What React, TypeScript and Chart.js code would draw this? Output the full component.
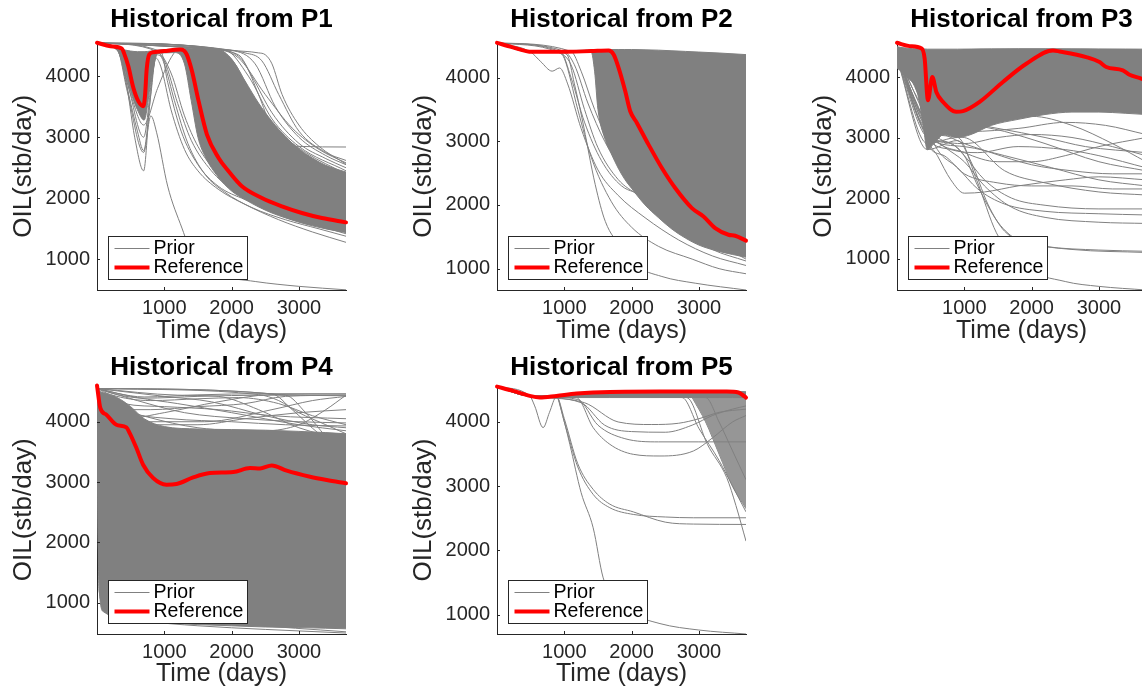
import React, { useEffect, useRef } from "react";
import { Chart, registerables } from "chart.js";

Chart.register(...registerables);

type Pt = [number, number];

// ---------- shared axis data ----------
const X_TICKS = [1000, 2000, 3000];
const Y_TICKS = [1000, 2000, 3000, 4000];
const DAY_MIN = 0;
const DAY_MAX = 3700;
const LEGEND_LABELS = ["Prior", "Reference"];
const X_LABEL = "Time (days)";
const Y_LABEL = "OIL(stb/day)";

// ---------- P1 ----------
const P1_REF: Pt[] = [[0,4546],[200,4490],[371,4450],[400,4380],[465,4164],[540,3810],[614,3590],[688,3508],[713,3672],[738,4110],[777,4356],[842,4390],[1000,4410],[1238,4437],[1290,4420],[1333,4356],[1411,4082],[1510,3590],[1634,3044],[1807,2661],[1955,2443],[2153,2197],[2450,2005],[2748,1869],[3045,1760],[3342,1678],[3700,1607]];
const P1_BAND_DAYS = [0,150,300,400,500,600,700,800,900,1000,1150,1300,1400,1500,1600,1800,2000,2200,2400,2600,2800,3000,3200,3400,3700];
const P1_BAND_HI = [4546,4500,4460,4430,4410,4400,4400,4410,4425,4435,4440,4450,4455,4460,4460,4440,4280,3920,3560,3260,3010,2810,2660,2540,2430];
const P1_BAND_LO = [4546,4490,4420,4150,3750,3450,3280,3900,4370,4380,4385,4200,3600,3000,2700,2350,2120,1980,1860,1760,1680,1610,1550,1500,1440];
const P1_PRIOR: Pt[][] = [
  [[0,4546],[300,4440],[420,4000],[560,3000],[693,2450],[780,3500],[870,4300],[950,4150],[1100,3450],[1300,2800],[1500,2450],[1800,2150],[2200,1900],[2700,1650],[3200,1450],[3700,1280]],
  [[0,4546],[300,4440],[450,3800],[600,3100],[693,2780],[800,3700],[880,4350],[1000,4250],[1200,3550],[1400,2950],[1700,2450],[2000,2150],[2500,1850],[3000,1650],[3700,1420]],
  [[0,4546],[300,4440],[450,3900],[693,3000],[820,4000],[900,4380],[1100,4050],[1300,3350],[1500,2850],[1800,2400],[2200,2050],[2800,1750],[3700,1500]],
  [[0,4546],[300,4440],[450,3750],[693,2750],[800,3350],[887,3072],[1050,2200],[1262,1514],[1460,967],[1800,750],[2351,639],[3000,560],[3700,503]],
  [[0,4546],[300,4440],[500,3700],[693,3200],[900,3800],[1100,4300],[1200,4420],[1300,4300],[1500,3500],[1800,2750],[2200,2250],[3000,1850],[3700,1620]],
  [[0,4546],[900,4400],[1000,4200],[1150,3600],[1350,2900],[1600,2400],[1900,2100],[2300,1850],[2800,1650],[3300,1500],[3700,1380]],
  [[0,4546],[950,4400],[1050,3900],[1250,3100],[1500,2550],[1800,2200],[2200,1980],[2700,1780],[3200,1600],[3700,1450]],
  [[0,4546],[1500,4460],[2000,4420],[2400,4380],[2500,4350],[2600,4200],[2750,3700],[3000,3200],[3300,2850],[3700,2560]],
  [[0,4546],[1500,4460],[2000,4390],[2200,4200],[2400,3700],[2600,3150],[2800,2900],[3000,2850],[3700,2840]],
  [[0,4546],[1500,4460],[2100,4350],[2300,4000],[2600,3400],[3000,2900],[3400,2650],[3700,2500]],
  [[0,4546],[1800,4440],[2050,4200],[2300,3700],[2700,3100],[3100,2750],[3700,2400]],
  [[0,4546],[1700,4450],[1950,4100],[2200,3550],[2500,3050],[3000,2650],[3700,2300]],
  [[0,4546],[1600,4460],[2200,4380],[2450,4250],[2700,3700],[3000,3100],[3400,2750],[3700,2620]],
  [[0,4546],[1700,4450],[2100,4300],[2500,3700],[2900,3150],[3300,2800],[3700,2580]],
  [[0,4546],[1900,4430],[2250,4000],[2600,3300],[3000,2850],[3700,2450]],
  [[0,4546],[2000,4420],[2350,4200],[2650,3500],[3000,3000],[3400,2700],[3700,2550]],
];

// ---------- P2 ----------
const P2_REF: Pt[] = [[0,4545],[223,4477],[520,4403],[965,4403],[1400,4415],[1658,4424],[1733,4362],[1807,4152],[1906,3785],[1980,3471],[2079,3287],[2252,2947],[2450,2580],[2648,2266],[2896,1951],[3069,1820],[3242,1637],[3440,1532],[3539,1516],[3700,1440]];
const P2_BAND_DAYS = [0,300,500,1000,1300,1400,1450,1500,1600,1700,1800,1900,2000,2200,2400,2600,2800,3000,3300,3700];
const P2_BAND_HI = [4545,4460,4410,4420,4430,4435,4440,4440,4440,4440,4440,4440,4440,4435,4430,4420,4410,4400,4385,4360];
const P2_BAND_LO = [4545,4450,4400,4400,4410,4400,4100,3500,3050,2800,2580,2400,2260,2000,1800,1620,1480,1370,1270,1180];
const P2_PRIOR: Pt[][] = [
  [[0,4545],[500,4400],[900,4400],[1040,4360],[1150,3900],[1262,3366],[1460,2318],[1609,1742],[1856,1323],[2054,1060],[2450,877],[2945,772],[3700,665]],
  [[0,4545],[500,4400],[900,4400],[1000,4300],[1200,3500],[1400,2750],[1700,2050],[2000,1650],[2400,1350],[2900,1150],[3300,1000],[3700,920]],
  [[0,4545],[500,4400],[650,4250],[820,4100],[930,4150],[1050,3900],[1250,3200],[1500,2550],[1800,2150],[2200,1800],[2700,1450],[3200,1200],[3700,1050]],
  [[0,4545],[900,4400],[1100,4200],[1300,3500],[1500,2900],[1800,2400],[2100,2150],[2400,1900],[2800,1550],[3200,1300],[3700,1120]],
  [[0,4545],[1000,4410],[1150,4200],[1350,3600],[1600,3000],[1900,2500],[2300,2100],[2800,1700],[3300,1400],[3700,1200]],
  [[0,4545],[1100,4410],[1250,4100],[1450,3500],[1700,2900],[2000,2400],[2400,2000],[2900,1600],[3700,1250]],
  [[0,4545],[950,4400],[1100,4000],[1300,3300],[1550,2700],[1850,2300],[2200,2150],[2600,1900],[3100,1500],[3700,1150]],
];

// ---------- P3 ----------
const P3_REF: Pt[] = [[0,4565],[188,4510],[366,4470],[411,4302],[460,3616],[525,4000],[584,3753],[683,3589],[881,3424],[980,3435],[1228,3589],[1574,3918],[1921,4219],[2317,4439],[2416,4422],[2812,4329],[3010,4247],[3109,4165],[3356,4110],[3455,4038],[3629,3973],[3700,3940]];
const P3_BAND_DAYS = [0,150,300,380,450,550,700,900,1100,1400,1800,2200,2600,3000,3400,3700];
const P3_BAND_HI = [4500,4475,4465,4465,4460,4460,4460,4460,4462,4465,4468,4468,4466,4464,4462,4460];
const P3_BAND_LO = [4150,4000,3750,3300,2800,2900,3050,3000,3050,3200,3300,3380,3420,3420,3400,3380];
const P3_PRIOR: Pt[][] = [
  [[0,4400],[300,3900],[450,3000],[600,2700],[800,2300],[1000,2080],[1300,2100],[1800,2200],[2500,2300],[3000,2350],[3700,2300]],
  [[0,4350],[300,3800],[450,2900],[700,2700],[1000,2400],[1500,2250],[2000,2200],[2600,2200],[3200,2150],[3700,2150]],
  [[0,4400],[350,3600],[500,3000],[800,2900],[1000,2700],[1300,2300],[1700,2000],[2200,1880],[3000,1820],[3700,1820]],
  [[0,4300],[400,3300],[600,2800],[900,2500],[1200,2150],[1600,1900],[2200,1780],[3000,1740],[3700,1720]],
  [[0,4350],[450,3100],[700,2850],[1000,2600],[1300,2200],[1700,1850],[2200,1680],[3000,1600],[3700,1580]],
  [[0,4300],[450,3050],[800,2900],[1000,2700],[1200,2200],[1500,1600],[1800,1300],[2200,1200],[3000,1140],[3700,1120]],
  [[0,4300],[450,2800],[900,2950],[1100,2600],[1350,1900],[1600,1450],[2000,1250],[2600,1150],[3700,1100]],
  [[0,4300],[450,2900],[900,3000],[1181,2305],[1477,1426],[1870,875],[2500,620],[3000,540],[3700,480]],
  [[0,4400],[400,3400],[600,3000],[1000,2900],[1500,3000],[2000,3050],[2600,3000],[3200,2850],[3700,2700]],
  [[0,4350],[450,3000],[800,2800],[1200,2750],[1800,2850],[2500,2800],[3000,2700],[3700,2500]],
  [[0,4400],[450,3200],[900,3150],[1500,3300],[2000,3350],[2600,3200],[3200,2900],[3700,2600]],
  [[0,4400],[400,3300],[800,3000],[1400,2750],[2000,2550],[2600,2450],[3200,2400],[3700,2400]],
  [[0,4350],[500,3050],[1000,2750],[1500,2600],[2000,2600],[2500,2700],[3000,2850],[3700,3000]],
  [[0,4400],[450,3300],[900,3250],[1500,3150],[2200,3000],[2800,2850],[3700,2750]],
  [[0,4350],[400,3500],[1000,3250],[1600,3100],[2200,2900],[3000,2600],[3700,2450]],
  [[0,4300],[450,3000],[1000,2850],[1600,2700],[2300,2500],[3000,2300],[3700,2200]],
  [[0,4400],[450,3100],[1000,3000],[1600,2450],[2200,2250],[3000,2100],[3700,2050]],
  [[0,4380],[450,3150],[1100,3100],[1800,3150],[2500,3250],[3100,3200],[3700,3050]],
];

// ---------- P4 ----------
const P4_REF: Pt[] = [[0,4600],[50,4226],[139,4116],[288,3950],[437,3906],[486,3812],[586,3564],[685,3288],[834,3067],[1032,2957],[1181,2968],[1429,3078],[1677,3150],[2025,3166],[2273,3233],[2422,3227],[2596,3277],[2819,3189],[3166,3089],[3414,3034],[3700,2980]];
const P4_BAND_DAYS = [0,20,50,100,300,500,700,1000,1500,2000,2500,3000,3400,3700];
const P4_BAND_HI = [4600,4540,4500,4480,4400,4250,4050,3920,3880,3870,3860,3840,3820,3800];
const P4_BAND_LO = [4600,2000,1000,850,780,740,700,670,640,620,600,590,580,570];
const P4_PRIOR: Pt[][] = [
  [[0,4550],[300,4450],[700,4390],[1500,4420],[2500,4440],[3700,4430]],
  [[0,4560],[300,4470],[700,4410],[1500,4445],[2500,4465],[3700,4460]],
  [[0,4550],[600,4400],[1200,4300],[2000,4150],[3000,3950],[3700,3850]],
  [[0,4500],[500,4100],[900,3950],[1500,3950],[2200,4050],[3000,4150],[3700,4200]],
  [[0,4550],[2400,4450],[2700,4350],[3000,4150],[3400,3950],[3700,3800]],
  [[0,4550],[2800,4440],[3100,4150],[3400,3750],[3700,3350]],
  [[0,4450],[400,4050],[1000,4150],[1800,4330],[2600,4450],[3700,4460]],
  [[0,4500],[300,4200],[800,4200],[1500,4250],[2200,4300],[2800,4420],[3700,4440]],
  [[0,4550],[1000,4420],[1700,4330],[2500,4100],[3200,3950],[3700,3900]],
  [[0,4300],[1500,3900],[2500,3850],[3000,3950],[3400,4200],[3700,4440]],
  [[0,4550],[2600,4460],[2900,4200],[3300,3800],[3700,3500]],
  [[0,4500],[400,4300],[1000,4250],[1800,4200],[2600,4100],[3700,4050]],
  [[0,4550],[600,4350],[1300,4150],[2200,4050],[3000,4000],[3700,3980]],
  [[0,4450],[500,4150],[1100,4050],[2000,4000],[2800,3950],[3700,3930]],
  [[0,4550],[200,4450],[800,4350],[1500,4380],[2100,4400],[2700,4300],[3200,4100],[3700,3950]],
  [[0,4550],[1200,4440],[1800,4420],[2400,4200],[3000,3900],[3700,3700]],
  [[0,4500],[800,4000],[1600,4000],[2600,4200],[3200,4350],[3700,4420]],
  [[0,4550],[30,1200],[200,800],[700,700],[1500,620],[2500,560],[3700,500]],
  [[0,4550],[25,1800],[150,1300],[500,1000],[1200,800],[2200,650],[3700,520]],
];

// ---------- P5 ----------
const P5_REF: Pt[] = [[0,4551],[238,4484],[486,4406],[635,4380],[883,4406],[1181,4442],[1677,4468],[2422,4473],[3414,4473],[3588,4458],[3650,4420],[3700,4380]];
const P5_BAND_DAYS = [0,238,486,635,883,1181,1677,2422,2800,3000,3200,3414,3600,3700];
const P5_BAND_HI = [4551,4484,4406,4380,4410,4445,4468,4475,4475,4475,4475,4475,4475,4470];
const P5_BAND_LO = [4551,4484,4400,4375,4380,4380,4380,4380,4380,4380,4380,4380,4380,4380];
const P5_FAN_DAYS = [2900,3100,3300,3500,3700];
const P5_FAN_HI = [4380,4380,4380,4380,4380];
const P5_FAN_LO = [4380,4000,3500,3000,2650];
const P5_PRIOR: Pt[][] = [
  [[0,4551],[486,4406],[560,4250],[685,3912],[780,4150],[883,4400],[1200,4440],[2000,4450],[3700,4450]],
  [[0,4551],[486,4406],[883,4400],[950,4200],[1082,3652],[1250,2900],[1429,2352],[1578,1572],[1750,1250],[1950,1050],[2422,860],[3000,760],[3700,698]],
  [[0,4551],[486,4406],[883,4400],[1000,4000],[1200,3300],[1429,2872],[1677,2664],[2025,2560],[2500,2520],[2918,2508],[3700,2508]],
  [[0,4551],[486,4406],[883,4400],[1000,4050],[1200,3350],[1429,2950],[1677,2720],[2025,2600],[2500,2440],[2918,2410],[3700,2404]],
  [[0,4551],[486,4406],[1181,4380],[1429,3912],[1677,3652],[2025,3496],[2422,3470],[2918,3548],[3200,3750],[3500,4000],[3700,4100]],
  [[0,4551],[486,4406],[1200,4350],[1500,3950],[1900,3740],[2400,3690],[3000,3690],[3700,3690]],
  [[0,4551],[486,4406],[1250,4300],[1600,3950],[2000,3850],[2500,3840],[2900,3950],[3200,4100],[3500,4200],[3700,4250]],
  [[0,4551],[486,4406],[1300,4300],[1800,4000],[2300,3960],[2700,3980],[3000,4050],[3300,4150],[3700,4200]],
  [[0,4551],[486,4406],[2819,4380],[3126,3652],[3414,3132],[3550,2700],[3700,2144]],
  [[0,4551],[486,4406],[2750,4380],[3000,3900],[3300,3400],[3500,3000],[3700,2600]],
  [[0,4551],[486,4406],[3100,4380],[3300,4000],[3500,3550],[3700,3100]],
];

// ---------- styling ----------
const FONT = "'Liberation Sans', Arial, Helvetica, sans-serif";
const GRAY = "rgb(128,128,128)";
const FAN_FILL = "rgb(150,150,150)";
const RED = "rgb(255,0,0)";
const INK = "#262626";
const CELL_W = 380;
const AREA_LEFT = 97;
const AREA_RIGHT = 346;

type PanelSpec = {
  title: string;
  left: number;
  top: number;
  height: number;
  areaTop: number;
  areaBottom: number;
  titleMid: number;
  xTitleMid: number;
  yMin: number;
  yMax: number;
  ref: Pt[];
  bandDays: number[];
  bandHi: number[];
  bandLo: number[];
  fanDays?: number[];
  fanHi?: number[];
  fanLo?: number[];
  prior: Pt[][];
};

const PANELS: PanelSpec[] = [
  { title: "Historical from P1", left: 0, top: 0, height: 344, areaTop: 42.5, areaBottom: 290, titleMid: 19.7, xTitleMid: 331, yMin: 500, yMax: 4550, ref: P1_REF, bandDays: P1_BAND_DAYS, bandHi: P1_BAND_HI, bandLo: P1_BAND_LO, prior: P1_PRIOR },
  { title: "Historical from P2", left: 400, top: 0, height: 344, areaTop: 42.5, areaBottom: 290, titleMid: 19.7, xTitleMid: 331, yMin: 665, yMax: 4550, ref: P2_REF, bandDays: P2_BAND_DAYS, bandHi: P2_BAND_HI, bandLo: P2_BAND_LO, prior: P2_PRIOR },
  { title: "Historical from P3", left: 800, top: 0, height: 344, areaTop: 42.5, areaBottom: 290, titleMid: 19.7, xTitleMid: 331, yMin: 480, yMax: 4570, ref: P3_REF, bandDays: P3_BAND_DAYS, bandHi: P3_BAND_HI, bandLo: P3_BAND_LO, prior: P3_PRIOR },
  { title: "Historical from P4", left: 0, top: 344, height: 346, areaTop: 41.5, areaBottom: 290, titleMid: 23.5, xTitleMid: 330.3, yMin: 484, yMax: 4600, ref: P4_REF, bandDays: P4_BAND_DAYS, bandHi: P4_BAND_HI, bandLo: P4_BAND_LO, prior: P4_PRIOR },
  { title: "Historical from P5", left: 400, top: 344, height: 346, areaTop: 42, areaBottom: 290, titleMid: 23.5, xTitleMid: 330.3, yMin: 698, yMax: 4560, ref: P5_REF, bandDays: P5_BAND_DAYS, bandHi: P5_BAND_HI, bandLo: P5_BAND_LO, fanDays: P5_FAN_DAYS, fanHi: P5_FAN_HI, fanLo: P5_FAN_LO, prior: P5_PRIOR },
];

const toXY = (pts: Pt[]) => pts.map(([x, y]) => ({ x, y }));
const zipXY = (xs: number[], ys: number[]) => xs.map((x, i) => ({ x, y: ys[i] }));

const decorPlugin = {
  id: "matlabDecor",
  afterDraw(chart: any) {
    const { ctx, chartArea: a, scales } = chart;
    ctx.save();
    // inward tick marks
    ctx.strokeStyle = INK;
    ctx.lineWidth = 1;
    ctx.beginPath();
    X_TICKS.forEach((v) => {
      const px = Math.round(scales.x.getPixelForValue(v)) + 0.5;
      ctx.moveTo(px, a.bottom);
      ctx.lineTo(px, a.bottom - 3);
    });
    Y_TICKS.forEach((v) => {
      const py = Math.round(scales.y.getPixelForValue(v)) + 0.5;
      ctx.moveTo(a.left, py);
      ctx.lineTo(a.left + 3, py);
    });
    ctx.stroke();
    // legend box
    const bx = Math.round(a.left + 11) + 0.5;
    const by = Math.round(a.bottom - 54) + 0.5;
    const bw = 139;
    const bh = 43;
    ctx.fillStyle = "#ffffff";
    ctx.fillRect(bx, by, bw, bh);
    ctx.strokeStyle = INK;
    ctx.lineWidth = 1;
    ctx.strokeRect(bx, by, bw, bh);
    ctx.lineCap = "butt";
    ctx.strokeStyle = GRAY;
    ctx.lineWidth = 1;
    ctx.beginPath();
    ctx.moveTo(bx + 6, by + 12);
    ctx.lineTo(bx + 41, by + 12);
    ctx.stroke();
    ctx.strokeStyle = RED;
    ctx.lineWidth = 4;
    ctx.beginPath();
    ctx.moveTo(bx + 6, by + 31);
    ctx.lineTo(bx + 41, by + 31);
    ctx.stroke();
    ctx.fillStyle = "#000000";
    ctx.font = `19.5px ${FONT}`;
    ctx.textBaseline = "middle";
    ctx.textAlign = "left";
    ctx.fillText(LEGEND_LABELS[0], bx + 45, by + 12);
    ctx.fillText(LEGEND_LABELS[1], bx + 45, by + 31);
    ctx.restore();
  },
};

function buildConfig(p: PanelSpec): any {
  const lineBase = {
    pointRadius: 0,
    pointHoverRadius: 0,
    cubicInterpolationMode: "monotone",
  };
  const datasets: any[] = [];
  datasets.push({
    ...lineBase,
    label: LEGEND_LABELS[1],
    data: toXY(p.ref),
    borderColor: RED,
    borderWidth: 4,
    fill: false,
    clip: false,
    borderJoinStyle: "round",
    borderCapStyle: "round",
  });
  p.prior.forEach((line) => {
    datasets.push({
      ...lineBase,
      label: LEGEND_LABELS[0],
      data: toXY(line),
      borderColor: GRAY,
      borderWidth: 1,
      fill: false,
    });
  });
  if (p.fanDays && p.fanHi && p.fanLo) {
    datasets.push({
      ...lineBase,
      label: LEGEND_LABELS[0],
      data: zipXY(p.fanDays, p.fanHi),
      borderColor: GRAY,
      borderWidth: 1,
      backgroundColor: FAN_FILL,
      fill: "+1",
    });
    datasets.push({
      ...lineBase,
      label: LEGEND_LABELS[0],
      data: zipXY(p.fanDays, p.fanLo),
      borderColor: GRAY,
      borderWidth: 1,
      fill: false,
    });
  }
  datasets.push({
    ...lineBase,
    label: LEGEND_LABELS[0],
    data: zipXY(p.bandDays, p.bandHi),
    borderColor: GRAY,
    borderWidth: 1,
    backgroundColor: GRAY,
    fill: "+1",
  });
  datasets.push({
    ...lineBase,
    label: LEGEND_LABELS[0],
    data: zipXY(p.bandDays, p.bandLo),
    borderColor: GRAY,
    borderWidth: 1,
    fill: false,
  });

  const titleLH = 26 * 1.2;
  const titlePadTop = p.titleMid - titleLH / 2;
  const titlePadBottom = p.areaTop - titleLH - titlePadTop;
  const xAxisH = p.height - p.areaBottom;
  const xTitlePadBottom = p.height - p.xTitleMid - 12.5;

  return {
    type: "line",
    data: { datasets },
    plugins: [decorPlugin],
    options: {
      animation: false,
      responsive: false,
      devicePixelRatio: 1,
      events: [],
      layout: { padding: { left: 0, right: CELL_W - AREA_RIGHT, top: 0, bottom: 0 } },
      plugins: {
        legend: { display: false },
        tooltip: { enabled: false },
        title: {
          display: true,
          text: p.title,
          fullSize: false,
          color: "#000000",
          font: { family: FONT, size: 26, weight: "bold", lineHeight: 1.2 },
          padding: { top: titlePadTop, bottom: titlePadBottom },
        },
      },
      scales: {
        x: {
          type: "linear",
          min: DAY_MIN,
          max: DAY_MAX,
          afterBuildTicks: (s: any) => {
            s.ticks = X_TICKS.map((v) => ({ value: v }));
          },
          afterFit: (s: any) => {
            s.height = xAxisH;
          },
          grid: { display: false, drawTicks: false, tickLength: 0 },
          border: { display: true, color: INK, width: 1 },
          ticks: {
            color: INK,
            font: { family: FONT, size: 20, lineHeight: 1.2 },
            padding: 6,
            maxRotation: 0,
            autoSkip: false,
            callback: (v: any) => String(v),
          },
          title: {
            display: true,
            text: X_LABEL,
            color: INK,
            font: { family: FONT, size: 25, lineHeight: 1 },
            padding: { top: 0, bottom: xTitlePadBottom },
          },
        },
        y: {
          type: "linear",
          min: p.yMin,
          max: p.yMax,
          afterBuildTicks: (s: any) => {
            s.ticks = Y_TICKS.map((v) => ({ value: v }));
          },
          afterFit: (s: any) => {
            s.width = AREA_LEFT;
          },
          grid: { display: false, drawTicks: false, tickLength: 0 },
          border: { display: true, color: INK, width: 1 },
          ticks: {
            color: INK,
            font: { family: FONT, size: 20, lineHeight: 1.2 },
            padding: 7,
            autoSkip: false,
            callback: (v: any) => String(v),
          },
          title: {
            display: true,
            text: Y_LABEL,
            color: INK,
            font: { family: FONT, size: 26, lineHeight: 1 },
            padding: { top: 11, bottom: 0 },
          },
        },
      },
    },
  };
}

function Panel({ spec }: { spec: PanelSpec }) {
  const ref = useRef<HTMLCanvasElement>(null);
  useEffect(() => {
    const canvas = ref.current;
    if (!canvas) return;
    const chart = new Chart(canvas, buildConfig(spec));
    return () => chart.destroy();
  }, [spec]);
  return (
    <canvas
      ref={ref}
      width={CELL_W}
      height={spec.height}
      style={{ position: "absolute", left: spec.left, top: spec.top, width: CELL_W, height: spec.height }}
    />
  );
}

export default function App() {
  return (
    <div
      style={{
        position: "fixed",
        left: 0,
        top: 0,
        width: 1142,
        height: 690,
        overflow: "hidden",
        background: "#ffffff",
      }}
    >
      {PANELS.map((p) => (
        <Panel key={p.title} spec={p} />
      ))}
    </div>
  );
}
